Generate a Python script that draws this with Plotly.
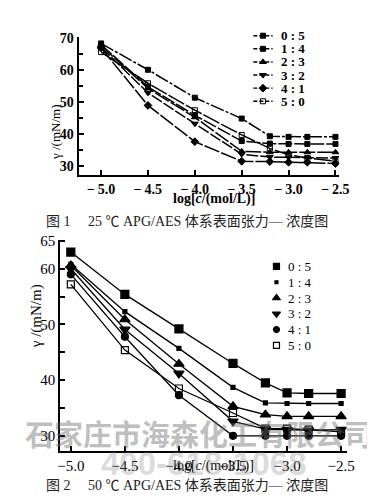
import plotly.graph_objects as go

# ---------------- data ----------------
log_c = [-5.0, -4.5, -4.0, -3.5, -3.2, -3.0, -2.8, -2.5]
ratio_labels = ["0 : 5", "1 : 4", "2 : 3", "3 : 2", "4 : 1", "5 : 0"]

# 25 °C surface tension (mN/m)
g25_0_5 = [68.2, 60.0, 51.3, 44.8, 39.3, 39.1, 39.1, 39.1]
g25_1_4 = [67.8, 54.7, 45.8, 37.8, 37.0, 36.9, 36.9, 36.9]
g25_2_3 = [67.5, 54.2, 45.2, 34.6, 34.3, 34.3, 34.3, 34.3]
g25_3_2 = [67.0, 52.8, 43.2, 33.7, 32.8, 32.7, 32.6, 32.5]
g25_4_1 = [66.8, 48.9, 37.6, 31.5, 31.4, 31.2, 31.2, 30.8]
g25_5_0 = [65.5, 55.8, 47.4, 39.7, 35.5, 33.5, 32.5, 31.5]

# 50 °C surface tension (mN/m)
g50_0_5 = [63.0, 55.4, 49.2, 43.0, 39.5, 37.7, 37.6, 37.6]
g50_1_4 = [60.8, 52.3, 45.7, 38.7, 35.9, 35.8, 35.8, 35.8]
g50_2_3 = [60.6, 50.9, 42.9, 35.3, 33.8, 33.5, 33.5, 33.5]
g50_3_2 = [60.0, 49.1, 41.2, 32.6, 31.2, 31.1, 31.0, 31.1]
g50_4_1 = [59.0, 47.8, 37.3, 30.0, 30.0, 30.0, 30.0, 30.0]
g50_5_0 = [57.2, 45.4, 38.5, 34.1, 31.3, 31.3, 31.1, 30.7]

x_tick_vals = [-5.0, -4.5, -4.0, -3.5, -3.0, -2.5]
x_tick_text_top = ["\u2212\u20095.0", "\u2212\u20094.5", "\u2212\u20094.0", "\u2212\u20093.5", "\u2212\u20093.0", "\u2212\u20092.5"]
x_tick_text_bot = ["\u22125.0", "\u22124.5", "\u22124.0", "\u22123.5", "\u22123.0", "\u22122.5"]
y_tick_vals_top = [30, 40, 50, 60, 70]
y_tick_vals_bot = [30, 40, 50, 60, 65]

g25 = [g25_0_5, g25_1_4, g25_2_3, g25_3_2, g25_4_1, g25_5_0]
g50 = [g50_0_5, g50_1_4, g50_2_3, g50_3_2, g50_4_1, g50_5_0]

# ---------------- layout helpers ----------------
W, H = 375, 503
def PX(x):
    return x / W
def PY(y):
    return 1 - y / H

SERIF = "Liberation Serif, DejaVu Serif, serif"
CJK = "Liberation Serif, Noto Sans CJK SC, serif"

top_sym = ["square", "square", "triangle-up", "triangle-down", "diamond", "square-open"]
top_size = [5, 5, 6, 6, 6, 5]
top_dash = ["14px,2px,3px,2px", "14px,2px", "16px,2px", "12px,2px", "16px,2px", "18px,2px"]

bot_sym = ["square", "square", "triangle-up", "triangle-down", "circle", "square-open"]
bot_size = [8, 4, 9, 9, 7, 7]
bot_leg_size = [6, 3, 7, 7, 6, 6]
bot_dash = ["solid", "solid", "solid", "solid", "solid", "solid"]

fig = go.Figure()

for i, ys in enumerate(g25):
    fig.add_trace(go.Scatter(
        x=log_c, y=ys, mode="lines+markers", xaxis="x", yaxis="y",
        line=dict(color="black", width=1.5, dash=top_dash[i]),
        marker=dict(symbol=top_sym[i], size=top_size[i], color="black",
                    line=dict(color="black", width=1)),
        showlegend=False, name=ratio_labels[i]))

for i, ys in enumerate(g50):
    fig.add_trace(go.Scatter(
        x=log_c, y=ys, mode="lines+markers", xaxis="x2", yaxis="y2",
        line=dict(color="black", width=1.3, dash=bot_dash[i]),
        marker=dict(symbol=bot_sym[i], size=bot_size[i], color="black",
                    line=dict(color="black", width=1.2)),
        showlegend=False, name=ratio_labels[i]))

# ---------------- manual legends (overlay pixel axes) ----------------
top_leg_rows = [21, 34.3, 47.6, 60.9, 74.2, 87.5]
bot_leg_rows = [255, 271, 287, 303, 319, 335]
annotations = []
for i, lab in enumerate(ratio_labels):
    ry = top_leg_rows[i]
    fig.add_trace(go.Scatter(x=[251, 271], y=[ry, ry], mode="lines", xaxis="x3", yaxis="y3",
                             line=dict(color="black", width=1.4, dash="4px,2px"),
                             showlegend=False, hoverinfo="skip"))
    fig.add_trace(go.Scatter(x=[261], y=[ry], mode="markers", xaxis="x3", yaxis="y3",
                             marker=dict(symbol=top_sym[i], size=top_size[i], color="black",
                                         line=dict(color="black", width=1)),
                             showlegend=False, hoverinfo="skip"))
    annotations.append(dict(x=PX(278), y=PY(ry), xref="paper", yref="paper", text="<b>" + lab + "</b>",
                            showarrow=False, xanchor="left", yanchor="middle",
                            font=dict(family=SERIF, size=13, color="black")))
    by = bot_leg_rows[i]
    fig.add_trace(go.Scatter(x=[275], y=[by], mode="markers", xaxis="x3", yaxis="y3",
                             marker=dict(symbol=bot_sym[i], size=bot_leg_size[i], color="black",
                                         line=dict(color="black", width=1.2)),
                             showlegend=False, hoverinfo="skip"))
    annotations.append(dict(x=PX(285), y=PY(by), xref="paper", yref="paper", text=lab,
                            showarrow=False, xanchor="left", yanchor="middle",
                            font=dict(family=SERIF, size=13, color="black")))

# axis titles and captions
annotations += [
    dict(x=PX(37), y=PY(88), xref="paper", yref="paper", text="\u03b3 /(mN/m)", textangle=-90,
         showarrow=False, font=dict(family=SERIF, size=13, color="black")),
    dict(x=PX(210), y=PY(187), xref="paper", yref="paper", text="<b>log[<i>c</i>/(mol/L)]</b>",
         showarrow=False, font=dict(family=SERIF, size=14, color="black")),
    dict(x=PX(182), y=PY(209), xref="paper", yref="paper",
         text="图 1\u2003 25 \u2103 APG/AES 体系表面张力\u2014 浓度图",
         showarrow=False, font=dict(family=CJK, size=14, color="#222")),
    dict(x=PX(15), y=PY(340), xref="paper", yref="paper", text="\u03b3 /(mN/m)", textangle=-90,
         showarrow=False, font=dict(family=SERIF, size=15, color="black")),
    dict(x=PX(210), y=PY(468), xref="paper", yref="paper", text="log[<i>c</i>/(mol/L)]",
         showarrow=False, font=dict(family=SERIF, size=14, color="black")),
    dict(x=PX(182), y=PY(487), xref="paper", yref="paper",
         text="图 2\u2003 50 \u2103 APG/AES 体系表面张力\u2014 浓度图",
         showarrow=False, font=dict(family=CJK, size=14, color="#222")),
    # watermark
    dict(x=PX(195), y=PY(447), xref="paper", yref="paper", text="<b>石家庄市海森化工有限公司</b>",
         showarrow=False, font=dict(family="Noto Sans CJK SC", size=29, color="rgba(110,110,110,0.45)")),
    dict(x=PX(200), y=PY(476), xref="paper", yref="paper", text="<b>400-618-1068</b>",
         showarrow=False, font=dict(family="Liberation Sans, Arial", size=33, color="rgba(140,140,140,0.32)")),
]

axis_common = dict(showline=True, linecolor="black", linewidth=2, showgrid=False, zeroline=False,
                   ticks="inside", tickcolor="black", tickwidth=1.5, ticklen=5, fixedrange=True)

fig.update_layout(
    width=W, height=H, margin=dict(l=0, r=0, t=0, b=0),
    paper_bgcolor="white", plot_bgcolor="rgba(0,0,0,0)", showlegend=False,
    xaxis=dict(domain=[PX(70), PX(340)], anchor="y", range=[-5.24, -2.46],
               tickmode="array", tickvals=x_tick_vals, ticktext=x_tick_text_top,
               tickfont=dict(family=SERIF, size=14, color="black", weight="bold"), **axis_common),
    yaxis=dict(domain=[PY(162), PY(22)], anchor="x", range=[27.3, 70.3],
               tickmode="array", tickvals=y_tick_vals_top,
               tickfont=dict(family=SERIF, size=14, color="black", weight="bold"),
               minor=dict(ticks="inside", ticklen=4, tickcolor="black", tickwidth=1.5, dtick=5, tick0=0),
               **axis_common),
    xaxis2=dict(domain=[PX(51), PX(348)], anchor="y2", range=[-5.098, -2.446],
                tickmode="array", tickvals=x_tick_vals, ticktext=x_tick_text_bot,
                tickfont=dict(family=SERIF, size=15, color="black"), **axis_common),
    yaxis2=dict(domain=[PY(441.7), PY(228)], anchor="x2", range=[27.35, 65.2],
                tickmode="array", tickvals=y_tick_vals_bot,
                tickfont=dict(family=SERIF, size=15, color="black"),
                minor=dict(ticks="inside", ticklen=5, tickcolor="black", tickwidth=1.5, dtick=5, tick0=0),
                **axis_common),
    xaxis3=dict(domain=[0, 1], anchor="y3", range=[0, W], visible=False, fixedrange=True),
    yaxis3=dict(domain=[0, 1], anchor="x3", range=[H, 0], visible=False, fixedrange=True),
    annotations=annotations,
)

fig.write_html("out.html")
